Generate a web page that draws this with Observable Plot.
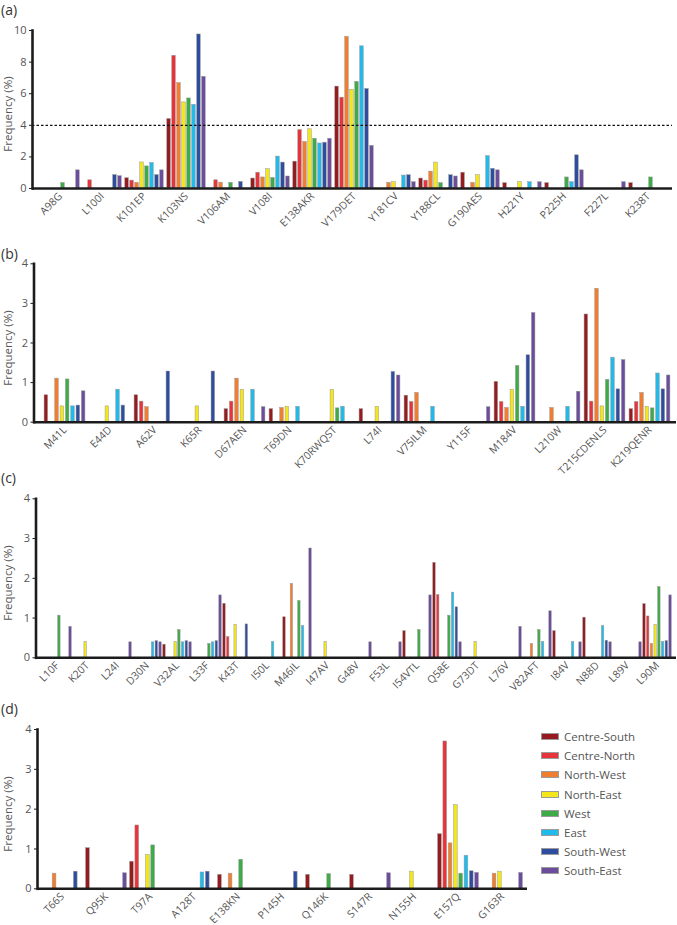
<!DOCTYPE html>
<html><head><meta charset="utf-8">
<script src="https://cdn.jsdelivr.net/npm/d3@7"></script>
<script src="https://cdn.jsdelivr.net/npm/@observablehq/plot@0.6"></script>
<style>
body{margin:0;background:#fff;font-family:"Open Sans",sans-serif;}
#wrap{position:relative;width:677px;height:925px;overflow:hidden;}
.panel{position:absolute;left:0;}
.panel svg{overflow:visible;display:block;}
.plab{position:absolute;left:1px;font-size:14px;color:#333;line-height:16px;}
.ylab{position:absolute;font-size:11.5px;color:#555;white-space:nowrap;transform:translate(-50%,-50%) rotate(-90deg);}
.leg{position:absolute;left:541px;top:727px;font-size:11.5px;color:#555;}
.leg div{display:flex;align-items:center;height:19.2px;}
.leg span.sw{display:inline-block;width:16px;height:5px;border:1px solid #9b9b9b;margin-right:5px;}
</style></head><body><div id="wrap"></div>
<script>
const _ = null;
const regions = ["Centre-South","Centre-North","North-West","North-East","West","East","South-West","South-East"];
const colors = ["#951b1f","#e7343b","#f07e2e","#f3e61b","#3fab48","#20bbea","#2f4d9f","#6b4c9d"];

// Panel (a) — values per category in region order
const catsA = ["A98G","L100I","K101EP","K103NS","V106AM","V108I","E138AKR","V179DET","Y181CV","Y188CL","G190AES","H221Y","P225H","F227L","K238T"];
const valsA = [
  [_,_,_,_,0.35,_,_,1.15],
  [_,0.52,_,_,_,_,0.85,0.78],
  [0.65,0.5,0.36,1.65,1.4,1.62,0.85,1.15],
  [4.4,8.4,6.67,5.45,5.7,5.3,9.75,7.07],
  [_,0.52,0.37,_,0.36,_,0.42,_],
  [0.63,1.0,0.7,1.22,0.67,2.02,1.64,0.76],
  [1.7,3.7,2.95,3.75,3.15,2.85,2.9,3.15],
  [6.45,5.75,9.6,6.25,6.75,9.0,6.3,2.7],
  [_,_,0.36,0.4,_,0.82,0.84,0.4],
  [0.63,0.5,1.07,1.64,0.34,_,0.84,0.76],
  [1.0,_,0.36,0.84,_,2.05,1.25,1.15],
  [0.34,_,_,0.4,_,0.4,_,0.4],
  [0.34,_,_,_,0.7,0.4,2.1,1.15],
  [_,_,_,_,_,_,_,0.4],
  [0.34,_,_,_,0.7,_,_,_]
];
const ticksA = [0,2,4,6,8,10];
const thresholdA = 4;

// Panel (b)
const catsB = ["M41L","E44D","A62V","K65R","D67AEN","T69DN","K70RWQST","L74I","V75ILM","Y115F","M184V","L210W","T215CDENLS","K219QENR"];
const valsB = [
  [0.68,_,1.1,0.4,1.08,0.4,0.42,0.78],
  [_,_,_,0.4,_,0.82,0.42,_],
  [0.68,0.52,0.38,_,_,_,1.28,_],
  [_,_,_,0.4,_,_,1.28,_],
  [0.33,0.52,1.1,0.82,_,0.82,_,0.38],
  [0.33,_,0.36,0.39,_,0.39,_,_],
  [_,_,_,0.82,0.35,0.39,_,_],
  [0.33,_,_,0.39,_,_,1.27,1.18],
  [0.67,0.51,0.74,_,_,0.39,_,_],
  [_,_,_,_,_,_,_,0.38],
  [1.02,0.51,0.36,0.82,1.42,0.39,1.69,2.76],
  [_,_,0.36,_,_,0.39,_,0.77],
  [2.72,0.52,3.37,0.4,1.07,1.63,0.83,1.57],
  [0.33,0.51,0.74,0.39,0.35,1.23,0.83,1.18]
];

// Panel (c)
const catsC = ["L10F","K20T","L24I","D30N","V32AL","L33F","K43T","I50L","M46IL","I47AV","G48V","F53L","I54VTL","Q58E","G73DT","L76V","V82AFT","I84V","N88D","L89V","L90M"];
const valsC = [
  [_,_,_,_,1.06,_,_,0.78],
  [_,_,_,0.4,_,_,_,_],
  [_,_,_,_,_,_,_,0.39],
  [_,_,_,_,_,0.39,0.42,0.39],
  [0.33,_,_,0.4,0.7,0.39,0.42,0.39],
  [_,_,_,_,0.35,0.39,0.42,1.57],
  [1.36,0.52,_,0.83,_,_,0.84,_],
  [_,_,_,_,_,0.4,_,_],
  [1.02,_,1.86,_,1.43,0.8,_,2.75],
  [_,_,_,0.4,_,_,_,_],
  [_,_,_,_,_,_,_,0.39],
  [_,_,_,_,_,_,_,0.39],
  [0.67,_,_,_,0.7,_,_,1.57],
  [2.39,1.58,_,_,1.06,1.64,1.27,0.39],
  [_,_,_,0.4,_,_,_,_],
  [_,_,_,_,_,_,_,0.78],
  [_,_,0.35,_,0.7,0.4,_,1.17],
  [0.67,_,_,_,_,0.4,_,0.39],
  [1.01,_,_,_,_,0.8,0.43,0.39],
  [_,_,_,_,_,_,_,0.39],
  [1.35,1.04,0.35,0.83,1.78,0.4,0.42,1.57]
];

// Panel (d)
const catsD = ["T66S","Q95K","T97A","A128T","E138KN","P145H","Q146K","S147R","N155H","E157Q","G163R"];
const valsD = [
  [_,_,0.38,_,_,_,0.43,_],
  [1.02,_,_,_,_,_,_,0.39],
  [0.68,1.59,_,0.85,1.09,_,_,_],
  [_,_,_,_,_,0.41,0.43,_],
  [0.35,_,0.38,_,0.73,_,_,_],
  [_,_,_,_,_,_,0.43,_],
  [0.35,_,_,_,0.37,_,_,_],
  [0.35,_,_,_,_,_,_,0.39],
  [_,_,_,0.43,_,_,_,_],
  [1.37,3.7,1.14,2.1,0.38,0.83,0.44,0.4],
  [_,_,0.38,0.43,_,_,_,0.4]
];
const ticks4 = [0,1,2,3,4];

const panels = [
  {label:"(a)", cats:catsA, vals:valsA, ticks:ticksA, yMax:10, threshold:thresholdA, top:0, height:245, mt:30, mb:57, ml:32, mr:5, x0:36.05, x1:671.9, slot:4.98, gap:0.5, labTop:2},
  {label:"(b)", cats:catsB, vals:valsB, ticks:ticks4, yMax:4, top:245, height:220, mt:18.3, mb:43.3, ml:33.5, mr:1, x0:36.8, x1:676.3, slot:5.33, gap:0.55, labTop:246},
  {label:"(c)", cats:catsC, vals:valsC, ticks:ticks4, yMax:4, top:465, height:225, mt:33.3, mb:32.7, ml:35.5, mr:1, x0:36.86, x1:676.6, slot:3.72, gap:0.4, labTop:470},
  {label:"(d)", cats:catsD, vals:valsD, ticks:ticks4, yMax:4, top:690, height:235, mt:39, mb:36.7, ml:37, mr:150, x0:37.65, x1:527, slot:5.3, gap:0.55, labTop:701}
];

const wrap = document.getElementById("wrap");

function makePanel(p) {
  const data = [];
  p.cats.forEach((c, ci) => p.vals[ci].forEach((v, ri) => {
    if (v != null) data.push({cat: c, region: regions[ri], ri, value: v});
  }));
  const bw = (p.x1 - p.x0) / p.cats.length;
  const pad = (bw - 8 * p.slot) / 2;
  const bars = regions.map((r, i) => Plot.barY(data.filter(d => d.ri === i), {
    x: "cat", y: "value", fill: "region", stroke: "#9b9b9b", strokeWidth: 0.5,
    insetLeft: pad + i * p.slot + p.gap,
    insetRight: bw - pad - (i + 1) * p.slot + p.gap
  }));
  const marks = [...bars];
  if (p.threshold != null) marks.push(Plot.ruleY([p.threshold], {stroke: "#111", strokeWidth: 1.3, strokeDasharray: "2.5,2"}));
  marks.push(
    Plot.ruleY([0], {stroke: "#1c1c1c", strokeWidth: 2.6}),
    Plot.frame({anchor: "left", stroke: "#1c1c1c", strokeWidth: 2.6}),
    Plot.axisY({ticks: p.ticks, tickSize: 3, tickPadding: 3, label: null, tickFormat: d => String(d), stroke: "#1c1c1c", fontSize: 11}),
    Plot.axisX({tickRotate: -45, tickSize: 0, tickPadding: 6, label: null})
  );
  return Plot.plot({
    width: 677, height: p.height,
    marginTop: p.mt, marginBottom: p.mb, marginLeft: p.ml, marginRight: p.mr,
    x: {domain: p.cats, range: [p.x0, p.x1], padding: 0},
    y: {domain: [0, p.yMax]},
    color: {domain: regions, range: colors},
    style: {fontFamily: "Open Sans, sans-serif", fontSize: "10.5px", color: "#555", background: "transparent", overflow: "visible"},
    marks
  });
}

panels.forEach(p => {
  const div = document.createElement("div");
  div.className = "panel";
  div.style.top = p.top + "px";
  div.appendChild(makePanel(p));
  wrap.appendChild(div);
  const lab = document.createElement("div");
  lab.className = "plab";
  lab.style.top = p.labTop + "px";
  lab.textContent = p.label;
  wrap.appendChild(lab);
  const yl = document.createElement("div");
  yl.className = "ylab";
  yl.style.left = "7px";
  yl.style.top = (p.top + p.mt + (p.height - p.mt - p.mb) / 2 + 5) + "px";
  yl.textContent = "Frequency (%)";
  wrap.appendChild(yl);
});

const leg = document.createElement("div");
leg.className = "leg";
regions.forEach((r, i) => {
  const row = document.createElement("div");
  const sw = document.createElement("span");
  sw.className = "sw";
  sw.style.background = colors[i];
  row.appendChild(sw);
  row.appendChild(document.createTextNode(r));
  leg.appendChild(row);
});
wrap.appendChild(leg);
</script>
</body></html>
